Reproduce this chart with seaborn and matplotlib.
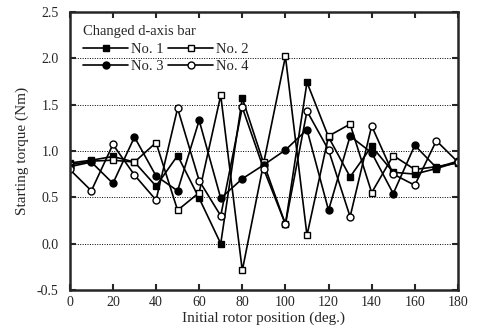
import numpy as np
import pandas as pd
import matplotlib
matplotlib.use("Agg")
import matplotlib.pyplot as plt
import seaborn as sns

positions = [0, 10, 20, 30, 40, 50, 60, 70, 80, 90, 100, 110, 120, 130, 140, 150, 160, 170, 180]
no1 = [0.87, 0.90, 0.94, 0.88, 0.62, 0.95, 0.49, 0.00, 1.57, 0.86, 0.21, 1.74, 1.15, 0.72, 1.05, 0.77, 0.75, 0.81, 0.88]
no2 = [0.85, 0.89, 0.90, 0.88, 1.09, 0.36, 0.55, 1.60, -0.29, 0.88, 2.02, 0.09, 1.16, 1.29, 0.55, 0.95, 0.80, 0.83, 0.87]
no3 = [0.83, 0.88, 0.65, 1.15, 0.73, 0.57, 1.33, 0.49, 0.70, 0.85, 1.01, 1.23, 0.36, 1.16, 0.98, 0.54, 1.06, 0.82, 0.89]
no4 = [0.80, 0.57, 1.07, 0.74, 0.47, 1.46, 0.68, 0.30, 1.47, 0.80, 0.21, 1.43, 1.01, 0.29, 1.27, 0.75, 0.63, 1.11, 0.88]
series_names = ["No. 1", "No. 2", "No. 3", "No. 4"]
x_ticks = [0, 20, 40, 60, 80, 100, 120, 140, 160, 180]
y_ticks = [-0.5, 0.0, 0.5, 1.0, 1.5, 2.0, 2.5]

sns.set_style("ticks")
plt.rcParams["font.family"] = ["Liberation Serif", "DejaVu Serif"]
plt.rcParams["axes.unicode_minus"] = False

fig = plt.figure(figsize=(4.78, 3.31), dpi=100)
ax = fig.add_axes([0.146, 0.124, 0.812, 0.840])

styles = {
    "No. 1": dict(marker="s", mfc="black"),
    "No. 2": dict(marker="s", mfc="white"),
    "No. 3": dict(marker="o", mfc="black"),
    "No. 4": dict(marker="o", mfc="white"),
}
data = dict(zip(series_names, [no1, no2, no3, no4]))
handles = {}
for name in series_names:
    df = pd.DataFrame({"x": positions, "y": data[name]})
    st = styles[name]
    sns.lineplot(data=df, x="x", y="y", ax=ax, color="black", linewidth=1.2,
                 marker=st["marker"], markersize=5, markerfacecolor=st["mfc"],
                 markeredgecolor="black", markeredgewidth=1.0, label=name)
    handles[name] = ax.lines[-1]

ax.set_xlim(0, 180)
ax.set_ylim(-0.5, 2.5)
ax.set_xticks(x_ticks)
ax.set_yticks(y_ticks)
ax.set_yticklabels([f"{v:.1f}" for v in y_ticks])
ax.yaxis.grid(True, linestyle=(0, (1, 1.5)), color="black", linewidth=0.7)
ax.set_axisbelow(True)
for sp in ax.spines.values():
    sp.set_visible(True)
    sp.set_linewidth(1.8)
ax.tick_params(direction="in", length=4, width=1.5, top=True, right=True, labelsize=10)
ax.tick_params(axis="y", pad=8)
ax.tick_params(axis="x", pad=4)
ax.set_xlabel("Initial rotor position (deg.)", fontsize=11, labelpad=2)
ax.set_ylabel("Starting torque (Nm)", fontsize=11, labelpad=6)

order = ["No. 1", "No. 3", "No. 2", "No. 4"]
leg = ax.legend([handles[n] for n in order], order, title="Changed d-axis bar", ncol=2,
                loc="upper left", frameon=False, fontsize=10.5, title_fontsize=10.5,
                handlelength=3.1, handletextpad=0.2, columnspacing=0.3,
                labelspacing=0.3, borderaxespad=0.5, alignment="left")

fig.savefig("out.png", dpi=100)
